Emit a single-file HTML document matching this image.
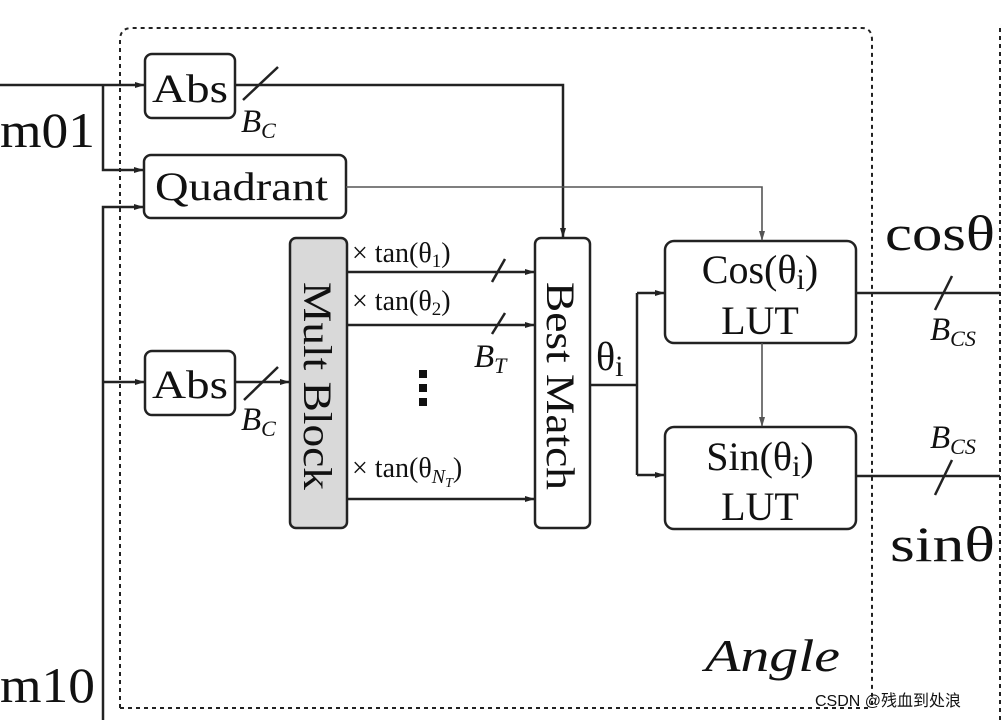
<!DOCTYPE html>
<html><head><meta charset="utf-8"><style>
body{margin:0;background:#fff;width:1002px;height:720px;overflow:hidden}
svg{display:block}
text{font-family:"Liberation Serif",serif;fill:#111}
</style></head><body>
<svg width="1002" height="720" viewBox="0 0 1002 720">
<defs>
<marker id="a" markerWidth="10" markerHeight="8" refX="9" refY="4" orient="auto" markerUnits="userSpaceOnUse"><path d="M0,1 L10,4 L0,7 Z" fill="#222"/></marker>
<marker id="g" markerWidth="10" markerHeight="8" refX="9" refY="4" orient="auto" markerUnits="userSpaceOnUse"><path d="M0,1 L10,4 L0,7 Z" fill="#555"/></marker>
</defs>
<g fill="none" stroke="#222" stroke-width="2.5">
<path d="M120,708 L120,40 Q120,28 132,28 L862,28 Q872,28 872,40 L872,708" stroke-dasharray="4,4" stroke-width="2"/>
<line x1="120" y1="708" x2="872" y2="708" stroke-dasharray="4,4" stroke-width="2"/>
<line x1="1000" y1="28" x2="1000" y2="720" stroke-dasharray="4,4" stroke-width="2"/>
<rect x="145" y="54" width="90" height="64" rx="7"/>
<rect x="144" y="155" width="202" height="63" rx="7"/>
<rect x="145" y="351" width="90" height="64" rx="7"/>
<rect x="290" y="238" width="57" height="290" rx="6" fill="#d9d9d9"/>
<rect x="535" y="238" width="55" height="290" rx="6"/>
<rect x="665" y="241" width="191" height="102" rx="9"/>
<rect x="665" y="427" width="191" height="102" rx="9"/>
<line x1="0" y1="85" x2="144" y2="85" marker-end="url(#a)"/>
<polyline points="103,85 103,170 143,170" marker-end="url(#a)"/>
<polyline points="103,720 103,207 143,207" marker-end="url(#a)"/>
<line x1="103" y1="382" x2="144" y2="382" marker-end="url(#a)"/>
<line x1="235" y1="382" x2="289" y2="382" marker-end="url(#a)"/>
<polyline points="235,85 563,85 563,237" marker-end="url(#a)"/>
<line x1="347" y1="272" x2="534" y2="272" marker-end="url(#a)"/>
<line x1="347" y1="325" x2="534" y2="325" marker-end="url(#a)"/>
<line x1="347" y1="499" x2="534" y2="499" marker-end="url(#a)"/>
<line x1="590" y1="385" x2="637" y2="385"/>
<line x1="637" y1="293" x2="637" y2="475"/>
<line x1="637" y1="293" x2="664" y2="293" marker-end="url(#a)"/>
<line x1="637" y1="475" x2="664" y2="475" marker-end="url(#a)"/>
<line x1="856" y1="293" x2="1000" y2="293"/>
<line x1="856" y1="476" x2="1000" y2="476"/>
<line x1="243" y1="100" x2="278" y2="67"/>
<line x1="244" y1="400" x2="278" y2="367"/>
<line x1="492" y1="282" x2="505" y2="259"/>
<line x1="492" y1="334" x2="505" y2="313"/>
<line x1="935" y1="310" x2="952" y2="276"/>
<line x1="935" y1="495" x2="952" y2="460"/>
</g>
<g fill="none" stroke="#555" stroke-width="1.6">
<polyline points="346,187 762,187 762,240" marker-end="url(#g)"/>
<line x1="762" y1="343" x2="762" y2="426" marker-end="url(#g)"/>
</g>
<g fill="#111"><rect x="419" y="370" width="8" height="8"/><rect x="419" y="384" width="8" height="8"/><rect x="419" y="398" width="8" height="8"/></g>
<text x="152" y="102" font-size="40" textLength="76" lengthAdjust="spacingAndGlyphs">Abs</text>
<text x="155" y="200" font-size="40" textLength="173" lengthAdjust="spacingAndGlyphs">Quadrant</text>
<text x="152" y="398" font-size="40" textLength="76" lengthAdjust="spacingAndGlyphs">Abs</text>
<text x="0" y="147" font-size="50" textLength="95" lengthAdjust="spacingAndGlyphs">m01</text>
<text x="0" y="702" font-size="50" textLength="95" lengthAdjust="spacingAndGlyphs">m10</text>
<text x="241" y="132" font-size="33" font-style="italic">B<tspan font-size="22" dy="6">C</tspan></text>
<text x="241" y="430" font-size="33" font-style="italic">B<tspan font-size="22" dy="6">C</tspan></text>
<text x="474" y="367" font-size="33" font-style="italic">B<tspan font-size="22" dy="6">T</tspan></text>
<text transform="translate(304,282) rotate(90)" font-size="40" textLength="208" lengthAdjust="spacingAndGlyphs">Mult Block</text>
<text transform="translate(547,282) rotate(90)" font-size="40" textLength="208" lengthAdjust="spacingAndGlyphs">Best Match</text>
<text x="352" y="262" font-size="28">× tan(θ<tspan font-size="19" dy="5">1</tspan><tspan dy="-5">)</tspan></text>
<text x="352" y="310" font-size="28">× tan(θ<tspan font-size="19" dy="5">2</tspan><tspan dy="-5">)</tspan></text>
<text x="352" y="477" font-size="28">× tan(θ<tspan font-size="20" dy="6" font-style="italic">N<tspan font-size="14" dy="4">T</tspan></tspan><tspan dy="-10">)</tspan></text>
<text x="596" y="370" font-size="40">θ<tspan font-size="30" dy="6">i</tspan></text>
<text x="760" y="283" font-size="40" text-anchor="middle">Cos(θ<tspan font-size="30" dy="6">i</tspan><tspan dy="-6">)</tspan></text>
<text x="760" y="334" font-size="40" text-anchor="middle">LUT</text>
<text x="760" y="470" font-size="40" text-anchor="middle">Sin(θ<tspan font-size="30" dy="6">i</tspan><tspan dy="-6">)</tspan></text>
<text x="760" y="520" font-size="40" text-anchor="middle">LUT</text>
<text x="885" y="250" font-size="50" textLength="110" lengthAdjust="spacingAndGlyphs">cosθ</text>
<text x="890" y="561" font-size="50" textLength="105" lengthAdjust="spacingAndGlyphs">sinθ</text>
<text x="930" y="340" font-size="33" font-style="italic">B<tspan font-size="22" dy="6">CS</tspan></text>
<text x="930" y="448" font-size="33" font-style="italic">B<tspan font-size="22" dy="6">CS</tspan></text>
<text x="705" y="671" font-size="46" font-style="italic" textLength="135" lengthAdjust="spacingAndGlyphs">Angle</text>
<text x="815" y="706" font-size="16" style="font-family:'Liberation Sans','Noto Sans CJK SC',sans-serif" fill="#888">CSDN @残血到处浪</text>
</svg>
</body></html>
